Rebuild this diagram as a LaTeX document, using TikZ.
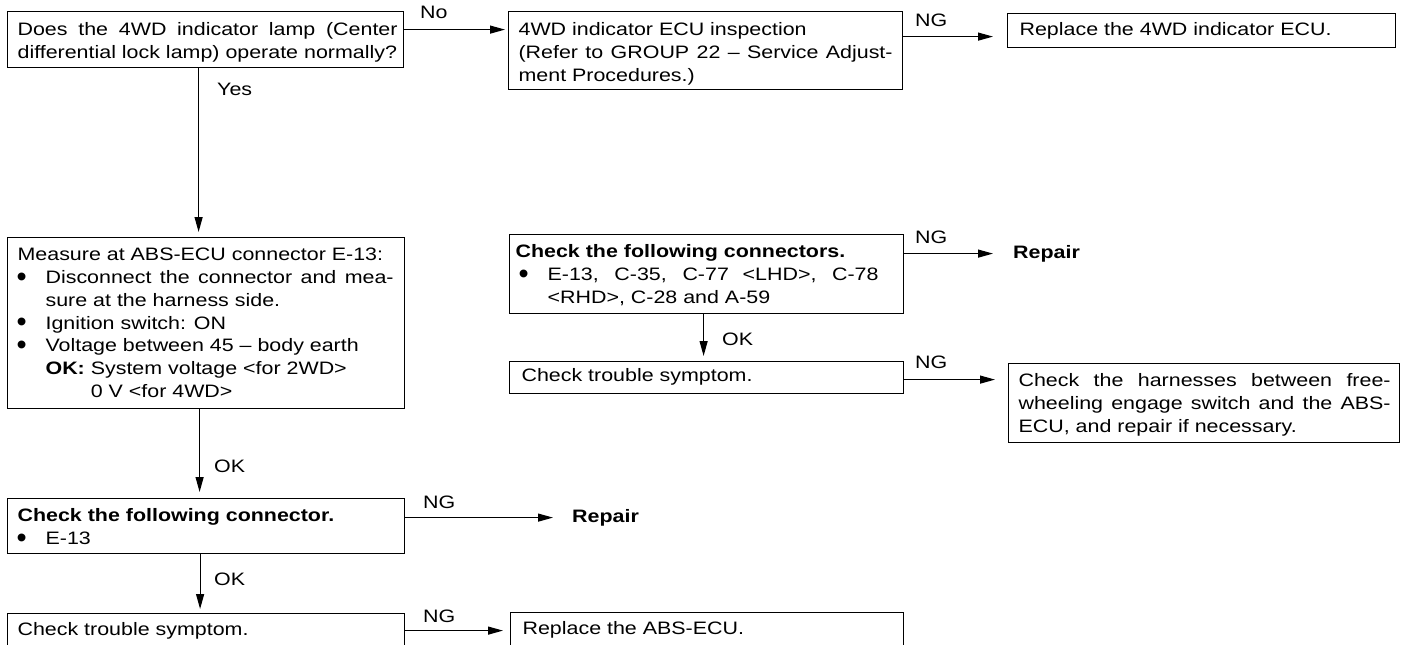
\documentclass[tikz,border=0pt]{standalone}
\usepackage{fontspec}
\setmainfont{Liberation Sans}[FakeStretch=1.19]
\usetikzlibrary{arrows.meta}
\newcommand\fbx[6]{\vbox to #2{\hsize=#1\relax\parindent=0pt\parskip=0pt\tolerance=10000\hbadness=10000\hyphenpenalty=10000\exhyphenpenalty=10000\leftskip=#4\relax\rightskip=#5\relax\parfillskip=0pt plus 1fil\relax\noindent\rule{0pt}{#3}#6\par\vss}}
\newcommand\bulletmark{\raisebox{-2.6pt}{\scalebox{1.35}[1.6]{\textbullet}}}
\newcommand\itm{\par\hangindent=28pt\hangafter=1\noindent\makebox[28pt][l]{\hspace*{-1pt}\bulletmark}}
\tikzset{
  box/.style={draw, line width=1.2pt, inner sep=0pt, anchor=north west, font=\fontsize{18}{22.8}\selectfont},
  lbl/.style={inner sep=0pt, anchor=base west, font=\fontsize{18}{22.8}\selectfont},
  rep/.style={lbl, font=\fontsize{18}{22.8}\selectfont\bfseries},
  arr/.style={line width=1.2pt, -{Triangle[length=15pt,width=8pt]}}
}
\begin{document}
\begin{tikzpicture}[x=1pt,y=-1pt]
\useasboundingbox (0,0) rectangle (1406,645);
\fill[white] (0,0) rectangle (1406,645);
\clip (0,0) rectangle (1406,645);

\node[box] (q1) at (7,11) {\fbx{396pt}{56pt}{24pt}{10pt}{6pt}{Does the 4WD indicator lamp (Center\linebreak differential lock lamp) operate normally?}};
\node[box] (q2) at (508,11) {\fbx{394pt}{78pt}{24pt}{10pt}{10pt}{4WD indicator ECU inspection\newline (Refer to GROUP 22 \textendash{} Service Adjust-\linebreak ment Procedures.)}};
\node[box] (q3) at (1007,13) {\fbx{388pt}{34pt}{22pt}{12pt}{10pt}{Replace the 4WD indicator ECU.}};
\node[box] (q4) at (7,237) {\fbx{397pt}{171pt}{23pt}{10pt}{11pt}{Measure at ABS-ECU connector E-13:\itm Disconnect the connector and mea-\linebreak sure at the harness side.\itm Ignition switch: ON\itm Voltage between 45 \textendash{} body earth\par\noindent\hspace*{28pt}\textbf{OK:} System voltage <for 2WD>\par\noindent\hspace*{28pt}\hphantom{\textbf{OK:} }0 V <for 4WD>}};
\node[box] (q5) at (7,498) {\fbx{397pt}{55pt}{23pt}{10pt}{11pt}{\textbf{Check the following connector.}\itm E-13}};
\node[box] (q6) at (7,613) {\fbx{397pt}{34pt}{22pt}{10pt}{10pt}{Check trouble symptom.}};
\node[box] (q7) at (510,612) {\fbx{393pt}{34pt}{22pt}{12pt}{10pt}{Replace the ABS-ECU.}};
\node[box] (q8) at (509,234) {\fbx{394pt}{79pt}{23pt}{10pt}{25pt}{\hspace*{-4pt}\textbf{Check the following connectors.}\itm E-13, C-35, C-77 <LHD>, C-78\linebreak <RHD>, C-28 and A-59}};
\node[box] (q9) at (509,361) {\fbx{394pt}{32pt}{20pt}{12pt}{10pt}{Check trouble symptom.}};
\node[box] (q10) at (1008,363) {\fbx{391pt}{79pt}{23pt}{10pt}{9pt}{Check the harnesses between free-\linebreak wheeling engage switch and the ABS-\linebreak ECU, and repair if necessary.}};

\node[rep] (r1) at (572,522) {Repair};
\node[rep] (r2) at (1013,258) {Repair};

\node[lbl] (l1) at (420,18) {No};
\node[lbl] (l2) at (915,27) {NG};
\node[lbl] (l3) at (217,95) {Yes};
\node[lbl] (l4) at (214,472) {OK};
\node[lbl] (l5) at (423,508) {NG};
\node[lbl] (l6) at (214,585) {OK};
\node[lbl] (l7) at (423,622) {NG};
\node[lbl] (l8) at (915,243) {NG};
\node[lbl] (l9) at (722,345) {OK};
\node[lbl] (l10) at (915,368) {NG};

\draw[arr, shorten >=3pt] ([yshift=10pt]q1.east) -- ([yshift=10pt]q1.east -| q2.west);
\draw[arr, shorten >=14pt] ([yshift=14pt]q2.east) -- ([yshift=14pt]q2.east -| q3.west);
\draw[arr, shorten >=5pt] ([xshift=-7pt]q1.south) -- ([xshift=-7pt]q1.south |- q4.north);
\draw[arr, shorten >=6pt] ([xshift=-6.5pt]q4.south) -- ([xshift=-6.5pt]q4.south |- q5.north);
\draw[arr, shorten >=4pt] ([xshift=-6pt]q5.south) -- ([xshift=-6pt]q5.south |- q6.north);
\draw[arr, shorten >=19pt] ([yshift=8.5pt]q5.east) -- ([yshift=8.5pt]q5.east -| r1.west);
\draw[arr, shorten >=7pt] (q6.east) -- (q6.east -| q7.west);
\draw[arr, shorten >=20pt] ([yshift=20.5pt]q8.east) -- ([yshift=20.5pt]q8.east -| r2.west);
\draw[arr, shorten >=5pt] ([xshift=-3pt]q8.south) -- ([xshift=-3pt]q8.south |- q9.north);
\draw[arr, shorten >=13pt] ([yshift=-2pt]q9.east) -- ([yshift=-2pt]q9.east -| q10.west);
\end{tikzpicture}
\end{document}
